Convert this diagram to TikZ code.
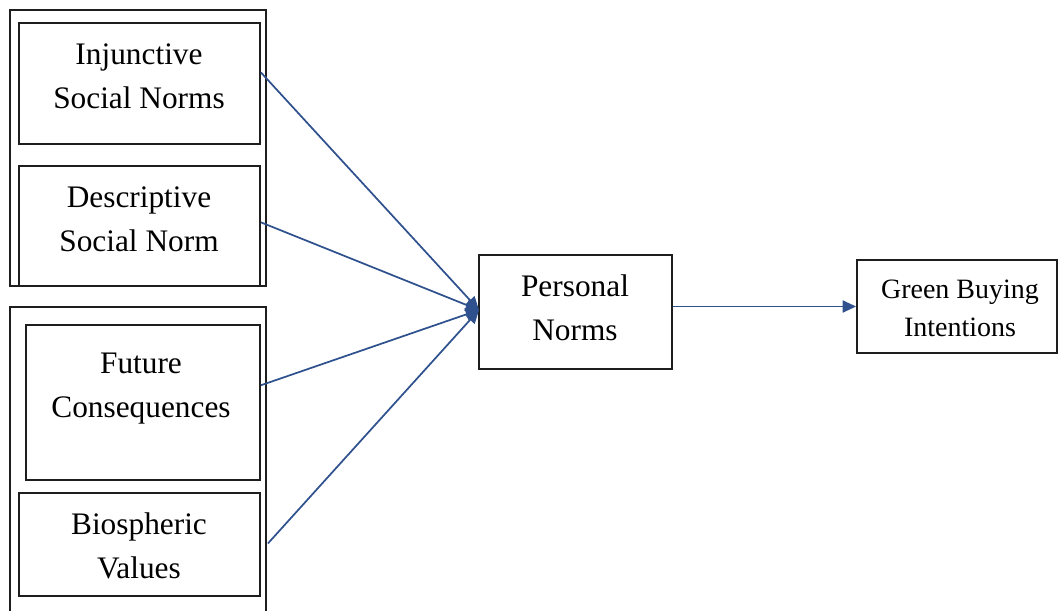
\documentclass[tikz,border=0pt]{standalone}
\usepackage{fontspec}
\setmainfont{Liberation Serif}
\usetikzlibrary{arrows.meta,calc}
\definecolor{arrblue}{RGB}{47,82,143}
\definecolor{boxline}{RGB}{30,30,30}
\begin{document}
\begin{tikzpicture}[x=0.75pt,y=-0.75pt,
  box/.style={draw=boxline,line width=1.4pt,inner sep=0pt},
  lbl/.style={align=center,font=\fontsize{23.5}{33}\selectfont,inner sep=0pt},
  lblsmall/.style={align=center,font=\fontsize{21}{28.5}\selectfont,inner sep=0pt},
  arr/.style={draw=arrblue,line width=1.3pt,-{Triangle[length=10pt,width=9pt]}}]
\useasboundingbox (0,0) rectangle (1058,611);
% group frames
\node[box,minimum width=256*0.75pt,minimum height=276*0.75pt] (g1) at (138,148) {};
\draw[draw=boxline,line width=1.4pt] (10,612) -- (10,307) -- (266,307) -- (266,612);
% boxes
\node[box,minimum width=241*0.75pt,minimum height=121*0.75pt] (inj) at (139.5,83.5) {};
\node[box,minimum width=241*0.75pt,minimum height=120*0.75pt] (des) at (139.5,226) {};
\node[box,minimum width=234*0.75pt,minimum height=155*0.75pt] (fut) at (143,402.5) {};
\node[box,minimum width=241*0.75pt,minimum height=103*0.75pt] (bio) at (139.5,544.5) {};
\node[box,minimum width=193*0.75pt,minimum height=114*0.75pt] (pn) at (575.5,312) {};
\node[box,minimum width=200*0.75pt,minimum height=93*0.75pt] (gbi) at (957,306.5) {};
% labels
\node[lbl] (tinj) at (139,76) {Injunctive\\Social Norms};
\node[lbl] (tdes) at (139,219) {Descriptive\\Social Norm};
\node[lbl] (tfut) at (141,389) {Future\\Consequences};
\node[lbl] (tbio) at (139,546) {Biospheric\\Values};
\node[lbl] (tpn) at (575,308) {Personal\\Norms};
\node[lblsmall] (tgbi) at (960,308) {Green Buying\\Intentions};
% connectors
\coordinate (pin) at (479,310);
\draw[arr] ($(inj.north east)!0.41!(inj.south east)$) -- (pin);
\draw[arr] ($(des.north east)!0.47!(des.south east)$) -- (pin);
\draw[arr] ($(fut.north east)!0.39!(fut.south east)$) -- (pin);
\draw[arr] ($(bio.north east)!0.49!(bio.south east)+(7,0)$) -- (pin);
\draw[arr] (pn.east |- gbi.west) -- (gbi.west);
\end{tikzpicture}
\end{document}
